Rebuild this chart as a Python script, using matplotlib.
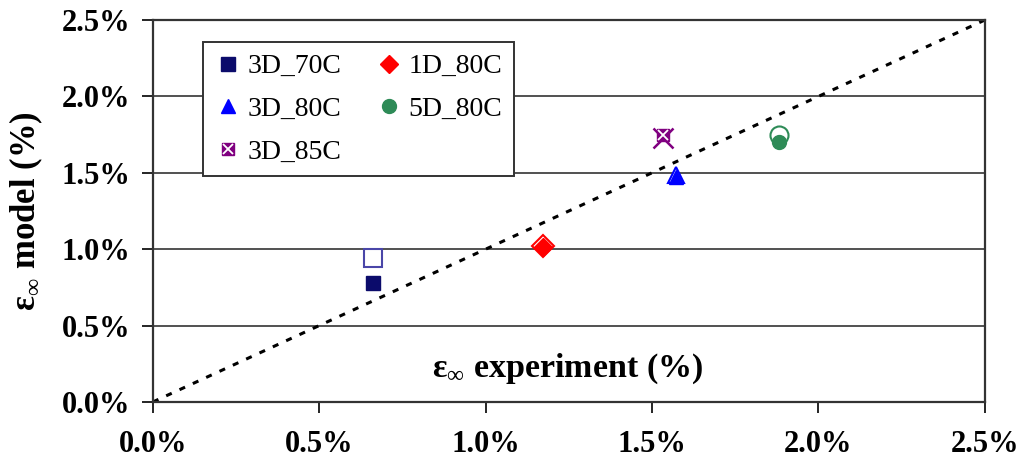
import matplotlib.pyplot as plt
import numpy as np

plt.rcParams['font.family'] = ['Liberation Serif', 'DejaVu Serif']
plt.rcParams['mathtext.fontset'] = 'custom'
plt.rcParams['mathtext.rm'] = 'Liberation Serif'
plt.rcParams['mathtext.bf'] = 'Liberation Serif:bold'

# data (strain in %)
series = ['3D_70C', '1D_80C', '3D_80C', '5D_80C', '3D_85C']
x_exp = [0.662, 1.172, 1.572, 1.881, 1.532]
y_model_filled = [0.779, 1.014, 1.472, 1.702, 1.747]
y_model_open = [0.942, 1.021, 1.486, 1.747, 1.728]

colors = {'3D_70C': '#0b0b6b', '1D_80C': '#ff0000', '3D_80C': '#0000ff',
          '5D_80C': '#2e8b57', '3D_85C': '#800080'}
open_edge = {'3D_70C': '#4a46a8', '1D_80C': '#ff0000', '3D_80C': '#0000ff',
             '5D_80C': '#2e8b57', '3D_85C': '#800080'}
markers = {'3D_70C': 's', '1D_80C': 'D', '3D_80C': '^', '5D_80C': 'o', '3D_85C': 's'}
ms_filled = {'3D_70C': 9.5, '1D_80C': 9, '3D_80C': 10, '5D_80C': 10, '3D_85C': 9}
ms_open = {'3D_70C': 12.5, '1D_80C': 11, '3D_80C': 12, '5D_80C': 13, '3D_85C': 14}

xticks = [0, 0.5, 1.0, 1.5, 2.0, 2.5]
yticks = [0, 0.5, 1.0, 1.5, 2.0, 2.5]

fig = plt.figure(figsize=(10.19, 4.62), dpi=100)
ax = fig.add_axes([0.150, 0.130, 0.8165, 0.8267])

# 1:1 line
ax.plot([0, 2.5], [0, 2.5], color='black', lw=2.2, ls=(0, (2.0, 2.8)), zorder=2)

handles = {}
for name, x, yf, yo in zip(series, x_exp, y_model_filled, y_model_open):
    c = colors[name]
    m = markers[name]
    if name == '3D_85C':
        ax.plot(x, yo, ls='none', marker='x', ms=ms_open[name], mew=1.8,
                color=c, zorder=3)
        h1, = ax.plot(x, yf, ls='none', marker='s', ms=ms_filled[name],
                      color=c, mec=c, zorder=4)
        h2, = ax.plot(x, yf, ls='none', marker='x', ms=ms_filled[name] * 0.8,
                      mew=1.3, color='white', zorder=5)
        handles[name] = (h1, h2)
    else:
        ax.plot(x, yo, ls='none', marker=m, ms=ms_open[name], mfc='white',
                mec=open_edge[name], mew=1.5, zorder=3)
        h, = ax.plot(x, yf, ls='none', marker=m, ms=ms_filled[name],
                     color=c, mec=c, zorder=4)
        handles[name] = h

ax.set_xlim(0, 2.5)
ax.set_ylim(0, 2.5)
ax.set_xticks(xticks)
ax.set_yticks(yticks)
ax.set_xticklabels(['%.1f%%' % t for t in xticks], fontsize=22, fontweight='bold')
ax.set_yticklabels(['%.1f%%' % t for t in yticks], fontsize=22, fontweight='bold')
ax.tick_params(direction='out', length=8, width=1.2, pad=12)
ax.tick_params(axis='y', pad=8)
ax.yaxis.grid(True, color='#333333', lw=1.2)
ax.set_axisbelow(True)
for s in ax.spines.values():
    s.set_linewidth(1.6)
    s.set_color('#333333')

ax.set_ylabel(r'ε$_{\infty}$ model (%)', fontsize=25, fontweight='bold', labelpad=12)
ax.text(0.498, 0.088, r'ε$_{\infty}$ experiment (%)', transform=ax.transAxes,
        fontsize=24.5, fontweight='bold', ha='center', va='center')

order = ['3D_70C', '3D_80C', '3D_85C', '1D_80C', '5D_80C']
leg = ax.legend([handles[n] for n in order], order, ncol=2, loc='upper left',
                bbox_to_anchor=(0.060, 0.942), borderaxespad=0, fontsize=20,
                frameon=True, fancybox=False, framealpha=1, edgecolor='#333333',
                handlelength=1.0, handletextpad=0.2, columnspacing=1.2,
                labelspacing=0.62, borderpad=0.42, markerscale=1.0)
leg.get_frame().set_linewidth(1.4)

fig.savefig('out.png', dpi=100)
